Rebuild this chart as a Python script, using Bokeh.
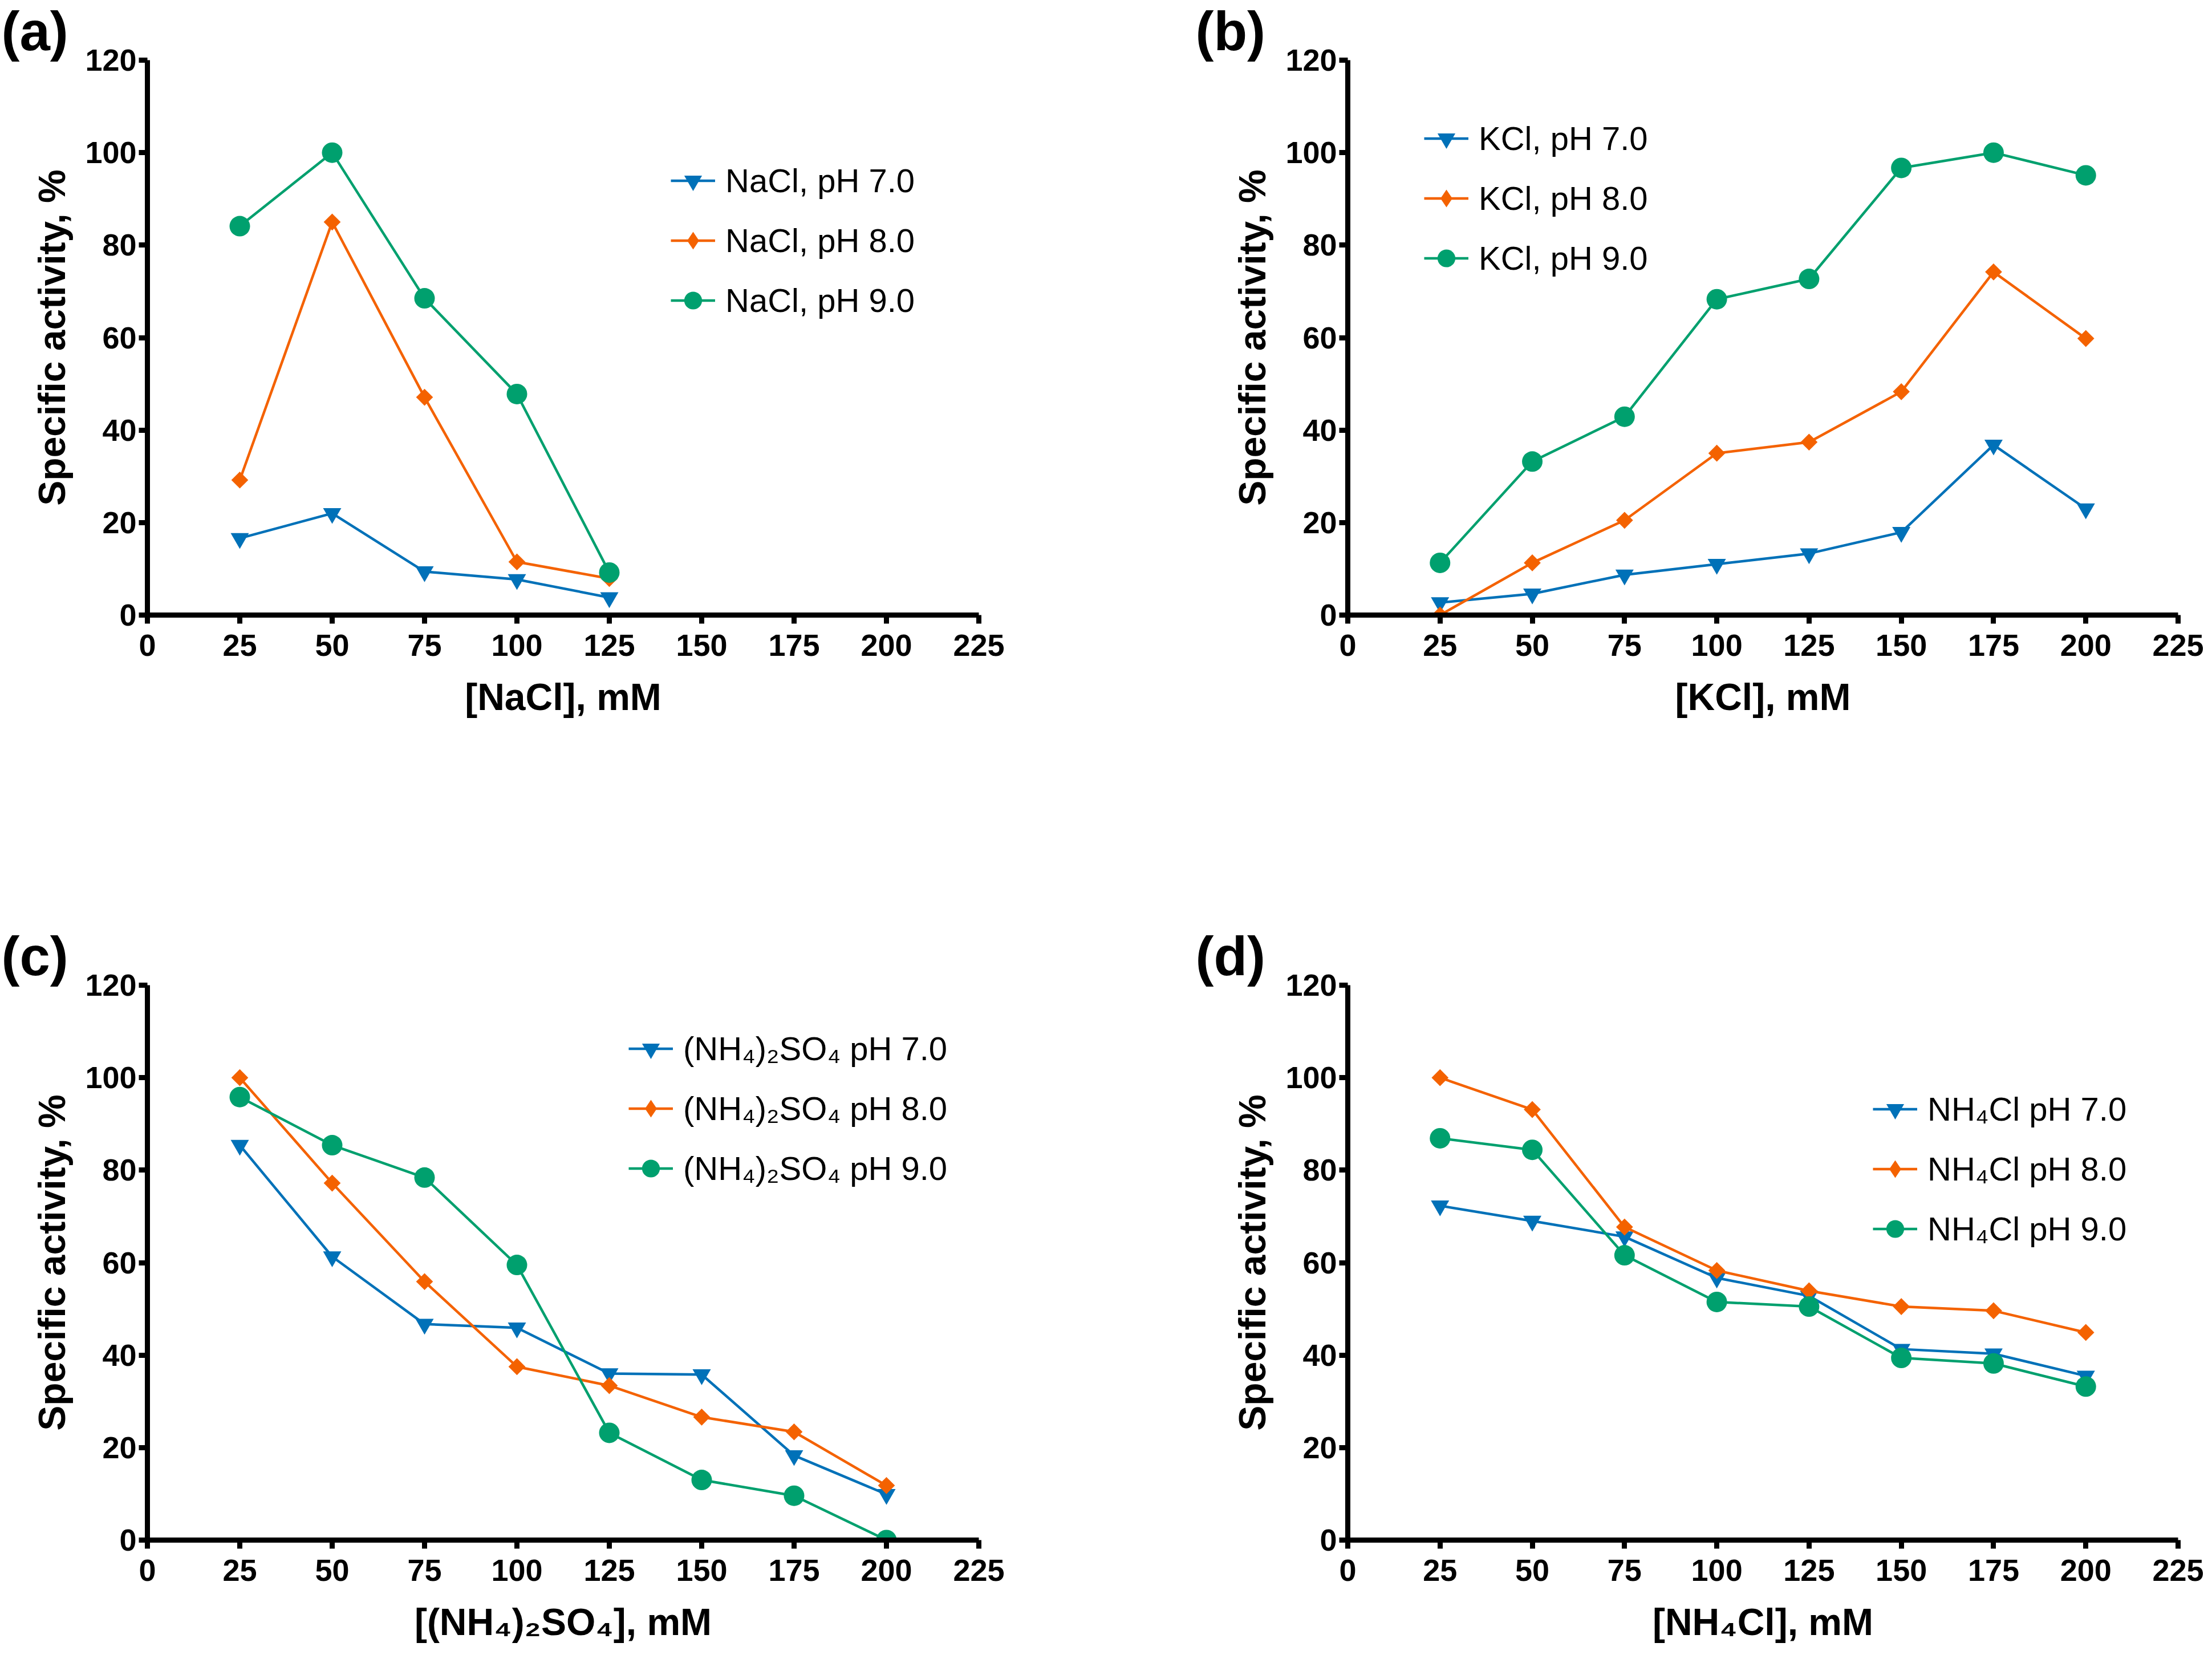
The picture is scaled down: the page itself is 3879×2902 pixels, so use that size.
import math
from bokeh.plotting import figure
from bokeh.models import Legend, LegendItem, FixedTicker, Range1d, Title
from bokeh.layouts import column, row
from bokeh.embed import file_html
from bokeh.resources import INLINE

# ---------------- data ----------------
conc_a = [25, 50, 75, 100, 125]
conc_8 = [25, 50, 75, 100, 125, 150, 175, 200]

nacl_ph7 = [16.6, 22.0, 9.4, 7.7, 3.8]
nacl_ph8 = [29.2, 85.0, 47.1, 11.5, 7.9]
nacl_ph9 = [84.1, 100.0, 68.5, 47.8, 9.2]

kcl_ph7 = [2.7, 4.6, 8.7, 11.0, 13.3, 17.9, 36.8, 23.0]
kcl_ph8 = [0.0, 11.3, 20.5, 35.0, 37.4, 48.3, 74.2, 59.8]
kcl_ph9 = [11.3, 33.2, 42.9, 68.3, 72.7, 96.7, 100.0, 95.1]

so4_ph7 = [85.4, 61.3, 46.7, 45.9, 36.0, 35.8, 18.3, 9.9]
so4_ph8 = [100.0, 77.2, 55.9, 37.5, 33.4, 26.6, 23.4, 11.8]
so4_ph9 = [95.8, 85.4, 78.4, 59.5, 23.2, 13.0, 9.6, 0.0]

nh4cl_ph7 = [72.3, 69.0, 65.6, 56.7, 52.8, 41.3, 40.3, 35.5]
nh4cl_ph8 = [100.0, 93.1, 67.7, 58.3, 53.9, 50.5, 49.6, 44.9]
nh4cl_ph9 = [86.9, 84.4, 61.6, 51.5, 50.5, 39.4, 38.2, 33.2]

x_ticks = [0, 25, 50, 75, 100, 125, 150, 175, 200, 225]
y_ticks = [0, 20, 40, 60, 80, 100, 120]

names_a = ["NaCl, pH 7.0", "NaCl, pH 8.0", "NaCl, pH 9.0"]
names_b = ["KCl, pH 7.0", "KCl, pH 8.0", "KCl, pH 9.0"]
names_c = ["(NH\u2084)\u2082SO\u2084 pH 7.0", "(NH\u2084)\u2082SO\u2084 pH 8.0", "(NH\u2084)\u2082SO\u2084 pH 9.0"]
names_d = ["NH\u2084Cl pH 7.0", "NH\u2084Cl pH 8.0", "NH\u2084Cl pH 9.0"]

xlab_a = "[NaCl], mM"
xlab_b = "[KCl], mM"
xlab_c = "[(NH\u2084)\u2082SO\u2084], mM"
xlab_d = "[NH\u2084Cl], mM"
ylab = "Specific activity, %"

# ---------------- style ----------------
BLUE = "#0071B8"
ORANGE = "#F46200"
GREEN = "#00A06E"
FONT = "Liberation Sans"
FW = 1458
FH = 973


def make_panel(tag, xs, series, names, xlabel, leg_loc, borders, tag_offset, fw=FW):
    mbl, mbr, mbt, mbb = borders
    p = figure(frame_width=fw, frame_height=FH,
               min_border_left=mbl, min_border_right=mbr,
               min_border_top=mbt, min_border_bottom=mbb,
               x_range=Range1d(0, 225), y_range=Range1d(0, 120),
               output_backend="svg", toolbar_location=None,
               background_fill_color="white", border_fill_color="white")
    p.grid.visible = False
    p.outline_line_color = None

    p.title = Title(text=tag, align="left", offset=tag_offset, standoff=-4,
                    text_font=FONT, text_font_style="bold", text_font_size="96px",
                    text_color="black", vertical_align="bottom")

    colors = [BLUE, ORANGE, GREEN]
    items = []
    for i, (ys, name) in enumerate(zip(series, names)):
        c = colors[i]
        lr = p.line(xs, ys, line_color=c, line_width=4.5)
        if i == 0:
            sr = p.scatter(xs, ys, marker="inverted_triangle", size=32,
                           fill_color=c, line_color=None)
            rs = [lr, sr]
        elif i == 1:
            # narrow diamond (used by the legend key) hidden under the rotated square
            kr = p.scatter(xs, ys, marker="diamond", size=29, fill_color=c, line_color=None)
            sr = p.scatter(xs, ys, marker="square", size=21, angle=math.pi / 4,
                           fill_color=c, line_color=None)
            rs = [lr, kr]
        else:
            sr = p.scatter(xs, ys, marker="circle", size=36, fill_color=c, line_color=None)
            rs = [lr, sr]
        items.append(LegendItem(label=name, renderers=rs))

    leg = Legend(items=items, location=leg_loc, orientation="vertical",
                 glyph_width=78, glyph_height=85, label_height=85, spacing=20,
                 padding=0, margin=0, label_standoff=18,
                 label_text_font=FONT, label_text_font_size="58px",
                 label_text_color="black",
                 border_line_color=None, background_fill_alpha=0)
    p.add_layout(leg, "center")

    p.xaxis.ticker = FixedTicker(ticks=x_ticks)
    p.yaxis.ticker = FixedTicker(ticks=y_ticks)
    for ax in p.axis:
        ax.axis_line_width = 9
        ax.axis_line_color = "black"
        ax.major_tick_line_width = 9
        ax.major_tick_line_color = "black"
        ax.major_tick_out = 15
        ax.major_tick_in = 0
        ax.minor_tick_line_color = None
        ax.major_label_text_font = FONT
        ax.major_label_text_font_style = "bold"
        ax.major_label_text_font_size = "54px"
        ax.major_label_text_color = "black"
        ax.axis_label_text_font = FONT
        ax.axis_label_text_font_style = "bold"
        ax.axis_label_text_font_size = "66px"
        ax.axis_label_text_color = "black"
    p.xaxis.major_label_standoff = 19
    p.yaxis.major_label_standoff = 4
    p.xaxis.axis_label_standoff = 32
    p.yaxis.axis_label_standoff = 18
    p.xaxis.axis_label = xlabel
    p.yaxis.axis_label = ylab
    return p


pa = make_panel("(a)", conc_a, [nacl_ph7, nacl_ph8, nacl_ph9], names_a, xlab_a,
                (918, 509), (258, 214, 105, 370), -256)
pb = make_panel("(b)", conc_8, [kcl_ph7, kcl_ph8, kcl_ph9], names_b, xlab_b,
                (134, 583), (433, 56, 105, 370), -267, fw=1456)
pc = make_panel("(c)", conc_8, [so4_ph7, so4_ph8, so4_ph9], names_c, xlab_c,
                (844, 609), (258, 214, 279, 180), -256)
pd = make_panel("(d)", conc_8, [nh4cl_ph7, nh4cl_ph8, nh4cl_ph9], names_d, xlab_d,
                (921, 503), (433, 56, 279, 180), -267, fw=1456)

layout = column(row(pa, pb), row(pc, pd))
open("out.html", "w").write(file_html(layout, INLINE))
